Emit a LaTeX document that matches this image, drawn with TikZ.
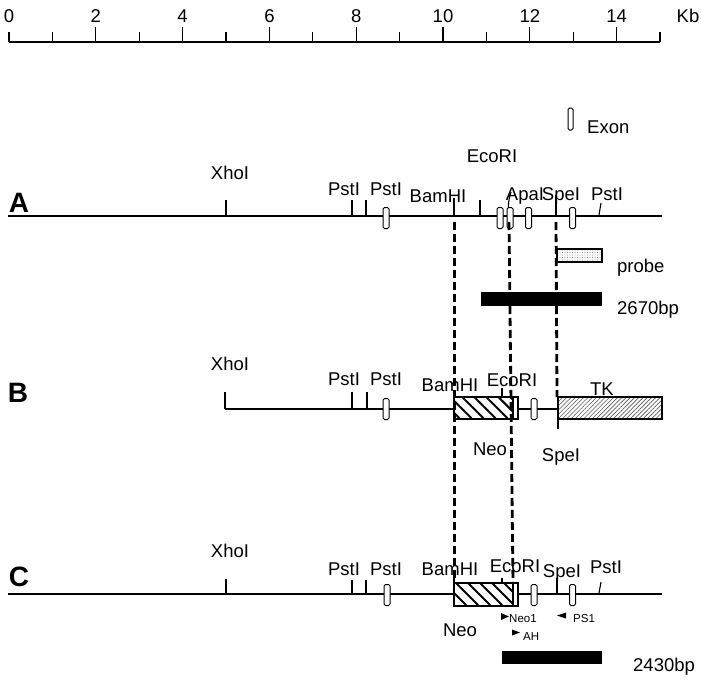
\documentclass[tikz,border=0pt]{standalone}
\usepackage{fontspec}
\setmainfont{Liberation Sans}
\usetikzlibrary{patterns.meta}
\begin{document}
\begin{tikzpicture}[x=1pt,y=-1pt,
  lbl/.style={font=\fontsize{18.5}{18.5}\selectfont, inner sep=0pt, anchor=base},
  lblw/.style={font=\fontsize{18.5}{18.5}\selectfont, inner sep=0pt, anchor=base west},
  sml/.style={font=\fontsize{11.5}{12}\selectfont, inner sep=0pt, anchor=base west},
  rowname/.style={font=\bfseries\fontsize{28}{28}\selectfont, inner sep=0pt, anchor=base},
  dna/.style={line width=1.3pt},
  site/.style={line width=1.1pt},
  exon/.style={draw, line width=1pt, fill=white, minimum width=6pt, minimum height=21pt, inner sep=0pt, rounded corners=1.5pt},
  guide/.style={line width=2.8pt, dash pattern=on 8pt off 4pt},
  neobox/.style={draw, line width=1.2pt, pattern={Lines[angle=-45,distance=8.5pt,line width=2pt]}},
  tkbox/.style={draw, line width=1.2pt, pattern={Lines[angle=45,distance=3pt,line width=0.6pt]}, pattern color=black!65},
  probebox/.style={draw, line width=1.1pt, pattern={Dots[distance=2.5pt,radius=0.45pt]}, pattern color=black!70},
  primer/.style={fill=black}
]
\useasboundingbox (0,0) rectangle (701,680);

% ---------------- ruler ----------------
\draw[line width=1.6pt] (9,42) -- (660,42);
\foreach \k in {0,...,15} {
  \pgfmathsetmacro{\xx}{9+43.4*\k}
  \pgfmathtruncatemacro{\isev}{(mod(\k,2)==0 && \k>0 && \k<15) ? 1 : 0}
  \ifnum\isev=1
    \draw[line width=1.3pt] (\xx,27) -- (\xx,42);
  \else
    \draw[line width=1.3pt] (\xx,32) -- (\xx,42);
  \fi
}
\foreach \k in {0,2,...,14} {
  \pgfmathsetmacro{\xx}{9+43.4*\k}
  \node[lbl] (r\k) at (\xx,22) {\k};
}
\node[lbl] (kb) at (688,22) {Kb};

% ---------------- legend ----------------
\node[exon, minimum height=22pt, minimum width=5pt] (legexon) at (570.5,119) {};
\node[lblw] (legtext) at (587,133) {Exon};

% ---------------- row A ----------------
\node[rowname] (rowA) at (19,212) {A};
\draw[dna] (8,216) -- (662,216);
\draw[site] (226,200) -- (226,216);
\node[lbl] (aXho) at (230,179) {XhoI};
\draw[site] (352,200) -- (352,216);
\draw[site] (366,200) -- (366,216);
\node[lbl] (aPst1) at (344,195) {PstI};
\node[lbl] (aPst2) at (386,195) {PstI};
\draw[site] (454,198) -- (454,216);
\node[lbl] (aBam) at (438,202) {BamHI};
\draw[site] (480,200) -- (480,216);
\node[lbl] (aEco) at (492,162) {EcoRI};
\draw[site] (509,216) .. controls (508,203) .. (511,192);
\node[lbl] (aApa) at (525,200) {ApaI};
\draw[site] (556,195) -- (556,216);
\node[lbl] (aSpe) at (561,200) {SpeI};
\draw[site] (599,215) -- (601,203);
\node[lbl] (aPst3) at (607,200) {PstI};
\node[exon] (aE1) at (386,218) {};
\node[exon] (aE2) at (500,218) {};
\node[exon] (aE3) at (510,218) {};
\node[exon] (aE4) at (528.5,218) {};
\node[exon] (aE5) at (572.5,218) {};

% probe and fragment
\draw[probebox] (557,249) rectangle (602,262);
\node[lblw] (probe) at (617,272) {probe};
\fill (481,292) rectangle (602,306);
\node[lblw] (bp2670) at (617,314) {2670bp};

% ---------------- row B ----------------
\node[rowname] (rowB) at (18,402) {B};
\draw[site] (225,392) -- (225,409);
\draw[dna] (225,409) -- (454,409);
\node[lbl] (bXho) at (230,370) {XhoI};
\draw[site] (352,392) -- (352,409);
\draw[site] (367,392) -- (367,409);
\node[lbl] (bPst1) at (344,385) {PstI};
\node[lbl] (bPst2) at (386,385) {PstI};
\node[exon] (bE1) at (386,409) {};
\draw[neobox] (454,397) rectangle (513,419);
\draw[line width=1.1pt, fill=white] (513,397) rectangle (518,419);
\node[lbl] (bBam) at (450,391) {BamHI};
\draw[site] (502,388) -- (502,397);
\node[lbl] (bEco) at (512,386) {EcoRI};
\draw[dna] (518,409) -- (558,409);
\node[exon] (bE2) at (534,409) {};
\draw[tkbox] (558,397) rectangle (662,419);
\node[lbl] (bTK) at (602,395) {TK};
\draw[site] (558,397) -- (558,429);
\node[lbl] (bSpe) at (561,461) {SpeI};
\node[lbl] (bNeo) at (490,455) {Neo};

% ---------------- row C ----------------
\node[rowname] (rowC) at (19,586) {C};
\draw[dna] (8,594) -- (454,594);
\draw[dna] (518,594) -- (662,594);
\draw[site] (226,579) -- (226,594);
\node[lbl] (cXho) at (230,557) {XhoI};
\draw[site] (352,580) -- (352,594);
\draw[site] (366,580) -- (366,594);
\node[lbl] (cPst1) at (344,575) {PstI};
\node[lbl] (cPst2) at (386,575) {PstI};
\node[exon] (cE1) at (387,595) {};
\draw[neobox] (454,583) rectangle (513,606);
\draw[line width=1.1pt, fill=white] (513,583) rectangle (518,606);
\node[lbl] (cBam) at (450,575) {BamHI};
\draw[site] (454,572) -- (454,583);
\draw[site] (502,578) -- (502,583);
\node[lbl] (cEco) at (515,572) {EcoRI};
\node[exon] (cE2) at (534,595) {};
\draw[site] (557,578) -- (557,594);
\node[lbl] (cSpe) at (562,577) {SpeI};
\node[exon] (cE3) at (572.5,595) {};
\draw[site] (599,593) -- (601,582);
\node[lbl] (cPst3) at (606,573) {PstI};

% primers
\fill[primer] (501,613) -- (509,616.5) -- (501,620) -- cycle;
\node[sml] (pNeo1) at (509,622) {Neo1};
\fill[primer] (566,612.5) -- (557,615.5) -- (566,618.5) -- cycle;
\node[sml] (pPS1) at (573,622) {PS1};
\fill[primer] (512,629.5) -- (520,632.5) -- (512,635.5) -- cycle;
\node[sml] (pAH) at (523,640) {AH};
\node[lbl] (cNeo) at (460,636) {Neo};
\fill (502,651) rectangle (602,664);
\node[lblw] (bp2430) at (633,671) {2430bp};

% ---------------- guide lines ----------------
\coordinate (g1a) at (454.5,222);
\coordinate (g1b) at (454.5,583);
\coordinate (g2a) at (509,222);
\coordinate (g2b) at (513,583);
\coordinate (g3a) at (556,222);
\coordinate (g3b) at (557,397);
\draw[guide] (g1a) -- (g1b);
\draw[guide] (g2a) -- (g2b);
\draw[guide] (g3a) -- (g3b);
\end{tikzpicture}
\end{document}
